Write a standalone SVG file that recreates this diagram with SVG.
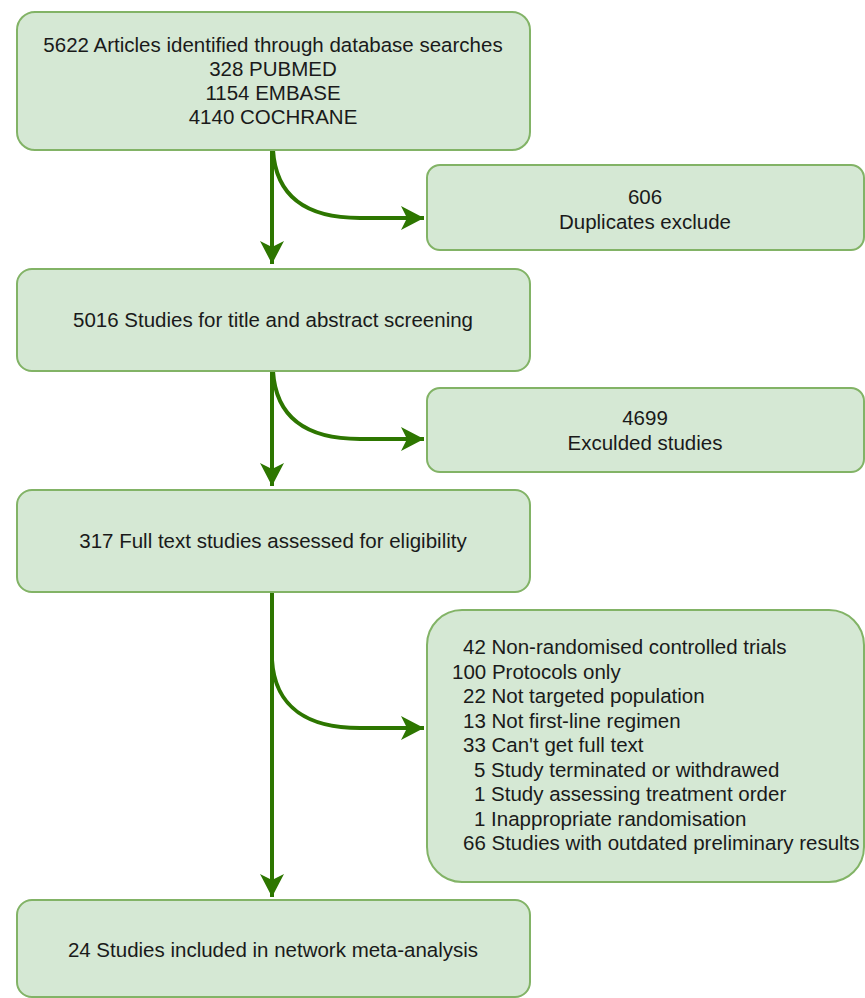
<svg xmlns="http://www.w3.org/2000/svg" width="865" height="998" viewBox="0 0 865 998">
<style>
.box{fill:#d5e8d4;stroke:#82b366;stroke-width:2}
.t{font-family:"Liberation Sans",Arial,sans-serif;font-size:20.5px;fill:#1a1a1a}
.c{text-anchor:middle}
.conn{fill:none;stroke:#2d7600;stroke-width:4}
</style>
<defs>
<marker id="ah" markerUnits="userSpaceOnUse" markerWidth="26" markerHeight="26" viewBox="-24 -13 26 26" refX="0" refY="0" orient="auto">
<path d="M0,0 L-23,-12 L-17,0 L-23,12 Z" fill="#2d7600"/>
</marker>
</defs>
<rect width="865" height="998" fill="#ffffff"/>
<g id="connectors">
<path class="conn" d="M272,150 L272,264" marker-end="url(#ah)"/>
<path class="conn" d="M272,371 L272,486" marker-end="url(#ah)"/>
<path class="conn" d="M272,592 L272,897" marker-end="url(#ah)"/>
<path class="conn" d="M273,150 C276,199 310,218 360,218 L424,218" marker-end="url(#ah)"/>
<path class="conn" d="M273,371 C276,420 310,439 360,439 L424,439" marker-end="url(#ah)"/>
<path class="conn" d="M272,660 C275,709 310,728 360,728 L424,728" marker-end="url(#ah)"/>
</g>
<g id="n1">
<rect class="box" x="17" y="12" width="513" height="138" rx="18"/>
<text class="t c" x="273" y="52">5622 Articles identified through database searches</text>
<text class="t c" x="273" y="76">328 PUBMED</text>
<text class="t c" x="273" y="100">1154 EMBASE</text>
<text class="t c" x="273" y="124">4140 COCHRANE</text>
</g>
<g id="n2">
<rect class="box" x="427" y="165" width="437" height="85" rx="13"/>
<text class="t c" x="645" y="204">606</text>
<text class="t c" x="645" y="229">Duplicates exclude</text>
</g>
<g id="n3">
<rect class="box" x="17" y="269" width="513" height="102" rx="15"/>
<text class="t c" x="273" y="327">5016 Studies for title and abstract screening</text>
</g>
<g id="n4">
<rect class="box" x="427" y="388" width="437" height="84" rx="13"/>
<text class="t c" x="645" y="425">4699</text>
<text class="t c" x="645" y="450">Exculded studies</text>
</g>
<g id="n5">
<rect class="box" x="17" y="490" width="513" height="102" rx="15"/>
<text class="t c" x="273" y="548">317 Full text studies assessed for eligibility</text>
</g>
<g id="n6">
<rect class="box" x="427" y="610" width="437" height="272" rx="35"/>
<text class="t" x="463" y="654">42 Non-randomised controlled trials</text>
<text class="t" x="452" y="678.5">100 Protocols only</text>
<text class="t" x="463" y="703">22 Not targeted population</text>
<text class="t" x="463" y="727.5">13 Not first-line regimen</text>
<text class="t" x="463" y="752">33 Can't get full text</text>
<text class="t" x="474" y="776.5">5 Study terminated or withdrawed</text>
<text class="t" x="474" y="801">1 Study assessing treatment order</text>
<text class="t" x="474" y="825.5">1 Inappropriate randomisation</text>
<text class="t" x="463" y="850">66 Studies with outdated preliminary results</text>
</g>
<g id="n7">
<rect class="box" x="17" y="900" width="513" height="97" rx="15"/>
<text class="t c" x="273" y="957">24 Studies included in network meta-analysis</text>
</g>
</svg>
